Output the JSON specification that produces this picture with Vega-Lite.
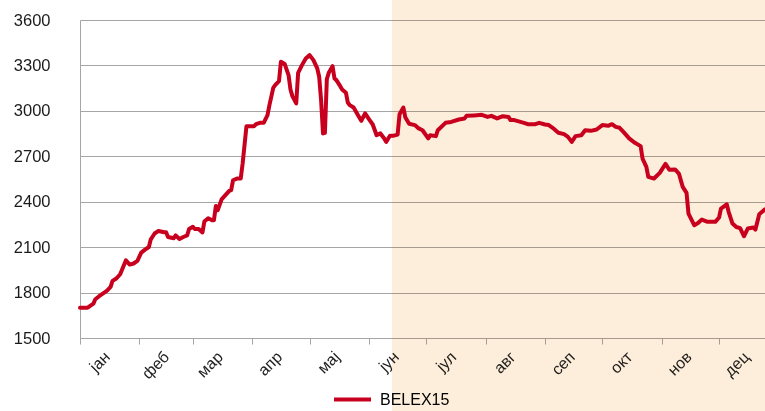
{
  "$schema": "https://vega.github.io/schema/vega-lite/v6.json",
  "width": 685,
  "height": 318,
  "autosize": {"type": "none"},
  "padding": {"left": 80, "top": 20, "right": 0, "bottom": 73},
  "background": "#ffffff",
  "config": {"view": {"stroke": null}, "font": "Liberation Sans"},
  "datasets": {
    "band": [{"start": "2007-06-13", "end": "2007-12-25", "low": 1000, "high": 3750}],
    "belex": [
      {"date":"2007-01-01","value":1700},{"date":"2007-01-05","value":1700},{"date":"2007-01-08","value":1727},{"date":"2007-01-09","value":1756},{"date":"2007-01-11","value":1776},{"date":"2007-01-15","value":1811},{"date":"2007-01-17","value":1837},{"date":"2007-01-18","value":1877},{"date":"2007-01-20","value":1893},{"date":"2007-01-22","value":1921},{"date":"2007-01-25","value":2013},{"date":"2007-01-27","value":1985},{"date":"2007-01-29","value":1992},{"date":"2007-01-31","value":2009},
      {"date":"2007-02-02","value":2064},{"date":"2007-02-04","value":2084},{"date":"2007-02-06","value":2101},{"date":"2007-02-07","value":2152},{"date":"2007-02-09","value":2190},{"date":"2007-02-11","value":2207},{"date":"2007-02-14","value":2198},{"date":"2007-02-15","value":2198},{"date":"2007-02-16","value":2167},{"date":"2007-02-19","value":2159},{"date":"2007-02-20","value":2177},{"date":"2007-02-22","value":2154},{"date":"2007-02-24","value":2167},{"date":"2007-02-26","value":2177},{"date":"2007-02-27","value":2220},
      {"date":"2007-03-01","value":2234},{"date":"2007-03-02","value":2220},{"date":"2007-03-04","value":2220},{"date":"2007-03-06","value":2197},{"date":"2007-03-07","value":2269},{"date":"2007-03-09","value":2291},{"date":"2007-03-11","value":2278},{"date":"2007-03-12","value":2278},{"date":"2007-03-13","value":2372},{"date":"2007-03-14","value":2344},{"date":"2007-03-16","value":2415},{"date":"2007-03-18","value":2443},{"date":"2007-03-20","value":2471},{"date":"2007-03-21","value":2476},{"date":"2007-03-22","value":2542},{"date":"2007-03-24","value":2553},{"date":"2007-03-26","value":2553},{"date":"2007-03-27","value":2652},{"date":"2007-03-29","value":2899},{"date":"2007-03-30","value":2899},
      {"date":"2007-04-02","value":2899},{"date":"2007-04-03","value":2912},{"date":"2007-04-05","value":2921},{"date":"2007-04-07","value":2921},{"date":"2007-04-09","value":2972},{"date":"2007-04-10","value":3038},{"date":"2007-04-12","value":3152},{"date":"2007-04-13","value":3170},{"date":"2007-04-15","value":3196},{"date":"2007-04-16","value":3324},{"date":"2007-04-18","value":3309},{"date":"2007-04-20","value":3236},{"date":"2007-04-21","value":3141},{"date":"2007-04-22","value":3097},{"date":"2007-04-24","value":3049},{"date":"2007-04-25","value":3251},{"date":"2007-04-27","value":3302},{"date":"2007-04-29","value":3346},
      {"date":"2007-05-01","value":3368},{"date":"2007-05-03","value":3335},{"date":"2007-05-05","value":3280},{"date":"2007-05-06","value":3225},{"date":"2007-05-07","value":3071},{"date":"2007-05-08","value":2851},{"date":"2007-05-09","value":2855},{"date":"2007-05-10","value":3209},{"date":"2007-05-11","value":3251},{"date":"2007-05-13","value":3295},{"date":"2007-05-14","value":3214},{"date":"2007-05-15","value":3203},{"date":"2007-05-17","value":3163},{"date":"2007-05-18","value":3141},{"date":"2007-05-20","value":3119},{"date":"2007-05-21","value":3053},{"date":"2007-05-22","value":3038},{"date":"2007-05-24","value":3022},{"date":"2007-05-26","value":2978},{"date":"2007-05-28","value":2934},{"date":"2007-05-30","value":2983},
      {"date":"2007-06-01","value":2945},{"date":"2007-06-03","value":2910},{"date":"2007-06-05","value":2839},{"date":"2007-06-07","value":2851},{"date":"2007-06-09","value":2818},{"date":"2007-06-10","value":2795},{"date":"2007-06-12","value":2836},{"date":"2007-06-14","value":2836},{"date":"2007-06-16","value":2843},{"date":"2007-06-17","value":2978},{"date":"2007-06-19","value":3022},{"date":"2007-06-20","value":2958},{"date":"2007-06-22","value":2915},{"date":"2007-06-25","value":2906},{"date":"2007-06-27","value":2884},{"date":"2007-06-29","value":2872},
      {"date":"2007-07-02","value":2818},{"date":"2007-07-03","value":2839},{"date":"2007-07-06","value":2833},{"date":"2007-07-07","value":2872},{"date":"2007-07-11","value":2921},{"date":"2007-07-14","value":2927},{"date":"2007-07-18","value":2943},{"date":"2007-07-21","value":2950},{"date":"2007-07-22","value":2967},{"date":"2007-07-26","value":2970},{"date":"2007-07-30","value":2974},
      {"date":"2007-08-02","value":2960},{"date":"2007-08-04","value":2967},{"date":"2007-08-07","value":2950},{"date":"2007-08-10","value":2965},{"date":"2007-08-13","value":2960},{"date":"2007-08-14","value":2939},{"date":"2007-08-16","value":2939},{"date":"2007-08-21","value":2921},{"date":"2007-08-23","value":2912},{"date":"2007-08-27","value":2912},{"date":"2007-08-29","value":2921},
      {"date":"2007-09-01","value":2910},{"date":"2007-09-03","value":2906},{"date":"2007-09-05","value":2888},{"date":"2007-09-08","value":2855},{"date":"2007-09-11","value":2846},{"date":"2007-09-13","value":2828},{"date":"2007-09-15","value":2795},{"date":"2007-09-17","value":2833},{"date":"2007-09-20","value":2839},{"date":"2007-09-22","value":2872},{"date":"2007-09-25","value":2868},{"date":"2007-09-28","value":2877},
      {"date":"2007-10-01","value":2906},{"date":"2007-10-04","value":2901},{"date":"2007-10-06","value":2912},{"date":"2007-10-08","value":2894},{"date":"2007-10-10","value":2888},{"date":"2007-10-12","value":2861},{"date":"2007-10-15","value":2818},{"date":"2007-10-18","value":2789},{"date":"2007-10-21","value":2767},{"date":"2007-10-22","value":2685},{"date":"2007-10-24","value":2630},{"date":"2007-10-25","value":2564},{"date":"2007-10-28","value":2553},{"date":"2007-10-31","value":2590},
      {"date":"2007-11-03","value":2650},{"date":"2007-11-05","value":2611},{"date":"2007-11-08","value":2613},{"date":"2007-11-10","value":2586},{"date":"2007-11-12","value":2498},{"date":"2007-11-14","value":2458},{"date":"2007-11-15","value":2322},{"date":"2007-11-18","value":2245},{"date":"2007-11-20","value":2260},{"date":"2007-11-22","value":2282},{"date":"2007-11-25","value":2267},{"date":"2007-11-29","value":2267},
      {"date":"2007-12-01","value":2296},{"date":"2007-12-02","value":2355},{"date":"2007-12-05","value":2383},{"date":"2007-12-06","value":2333},{"date":"2007-12-08","value":2256},{"date":"2007-12-10","value":2233},{"date":"2007-12-12","value":2225},{"date":"2007-12-14","value":2172},{"date":"2007-12-16","value":2223},{"date":"2007-12-19","value":2230},{"date":"2007-12-20","value":2216},{"date":"2007-12-22","value":2317},{"date":"2007-12-25","value":2350}
    ]
  },
  "layer": [
    {
      "data": {"name": "band"},
      "mark": {"type": "rect", "color": "#FDEEDB", "blend": "multiply"},
      "encoding": {
        "x": {
          "field": "start", "type": "temporal", "title": null,
          "scale": {"type": "utc", "nice": false, "domain": [{"year": 2007, "month": 1, "date": 1, "utc": true}, {"year": 2007, "month": 12, "date": 25, "utc": true}]},
          "axis": {
            "values": [
              {"year": 2007, "month": 1, "date": 1, "utc": true}, {"year": 2007, "month": 2, "date": 1, "utc": true},
              {"year": 2007, "month": 3, "date": 1, "utc": true}, {"year": 2007, "month": 4, "date": 1, "utc": true},
              {"year": 2007, "month": 5, "date": 1, "utc": true}, {"year": 2007, "month": 6, "date": 1, "utc": true},
              {"year": 2007, "month": 7, "date": 1, "utc": true}, {"year": 2007, "month": 8, "date": 1, "utc": true},
              {"year": 2007, "month": 9, "date": 1, "utc": true}, {"year": 2007, "month": 10, "date": 1, "utc": true},
              {"year": 2007, "month": 11, "date": 1, "utc": true}, {"year": 2007, "month": 12, "date": 1, "utc": true}
            ],
            "labelExpr": "['јан','феб','мар','апр','мај','јун','јул','авг','сеп','окт','нов','дец'][utcmonth(datum.value)]",
            "labelAngle": -45, "labelAlign": "right", "labelBaseline": "middle",
            "labelOffset": 27, "labelPadding": 10, "labelFontSize": 16, "labelColor": "#222222",
            "labelOverlap": false, "labelFlush": false, "labelBound": false,
            "tickColor": "#A6A6A6", "tickSize": 6, "domainColor": "#A6A6A6", "grid": false
          }
        },
        "x2": {"field": "end"},
        "y": {
          "field": "low", "type": "quantitative", "title": null,
          "scale": {"domain": [1500, 3600], "nice": false, "zero": false},
          "axis": {
            "values": [1500, 1800, 2100, 2400, 2700, 3000, 3300, 3600],
            "format": "d",
            "grid": true, "gridColor": "#A6A6A6", "ticks": false, "tickSize": 0,
            "labelPadding": 30, "labelFontSize": 16.5, "labelColor": "#1a1a1a",
            "domainColor": "#A6A6A6"
          }
        },
        "y2": {"field": "high"}
      }
    },
    {
      "data": {"name": "belex"},
      "mark": {"type": "line", "strokeWidth": 4, "strokeJoin": "round", "strokeCap": "round"},
      "encoding": {
        "x": {"field": "date", "type": "temporal", "title": null},
        "y": {"field": "value", "type": "quantitative", "title": null},
        "color": {
          "datum": "BELEX15",
          "scale": {"range": ["#C8001E"]},
          "legend": {
            "orient": "none", "legendX": 252, "legendY": 359, "title": null,
            "labelFontSize": 16, "labelColor": "#000000", "labelFont": "Liberation Sans",
            "symbolType": "stroke", "symbolStrokeWidth": 4, "symbolSize": 1369, "labelOffset": 7
          }
        }
      }
    }
  ]
}
